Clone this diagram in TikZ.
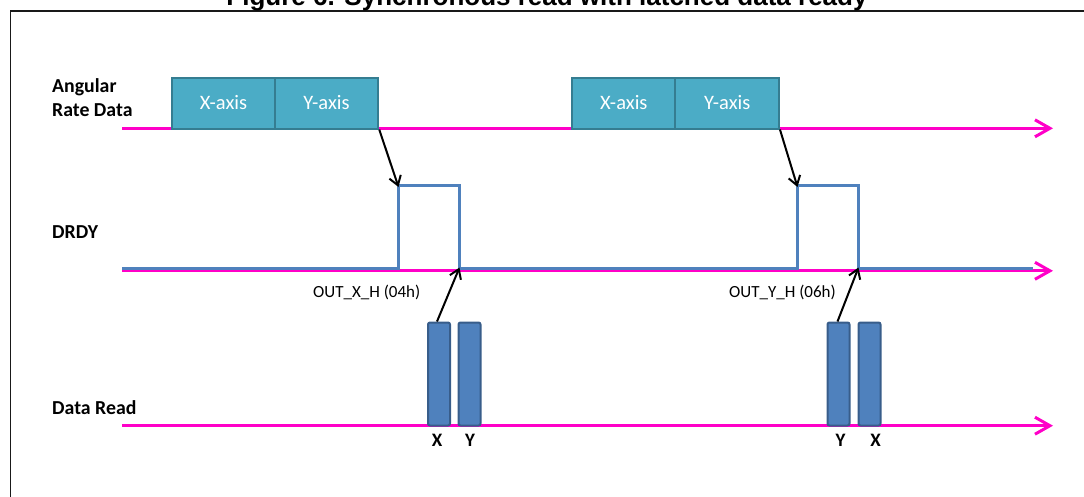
\documentclass[tikz,border=0pt]{standalone}
\usepackage{fontspec}
\setmainfont{Carlito}
\newfontfamily\arialf{Liberation Sans}
\usetikzlibrary{arrows.meta}
\definecolor{mag}{RGB}{255,0,200}
\definecolor{tealfill}{HTML}{4BACC6}
\definecolor{tealdraw}{HTML}{357D91}
\definecolor{sigblue}{HTML}{4F81BD}
\definecolor{bardraw}{HTML}{385D8A}
\begin{document}
\begin{tikzpicture}[x=1pt,y=-1pt,
  axisline/.style={mag, line width=3pt, -{Straight Barb[length=15pt,width=17pt,line width=3pt]}},
  databox/.style={draw=tealdraw, fill=tealfill, line width=2pt, minimum width=103.5pt, minimum height=51pt, inner sep=0pt, text=white, font=\fontsize{20.5}{24}\selectfont},
  readbar/.style={draw=bardraw, fill=sigblue, line width=2pt, rounded corners=2pt, minimum width=22pt, minimum height=103pt, inner sep=0pt},
  drdyline/.style={sigblue, line width=3.2pt},
  blkarrow/.style={black, line width=2pt, -{Straight Barb[length=9pt,width=12pt,line width=2pt]}},
  rowlabel/.style={anchor=base west, font=\bfseries\fontsize{19.8}{24.4}\selectfont, align=left, inner sep=0pt},
  reglabel/.style={anchor=base west, font=\fontsize{17}{20}\selectfont, inner sep=0pt},
  barlabel/.style={anchor=base, font=\bfseries\fontsize{19}{22}\selectfont, inner sep=0pt},
  frameline/.style={black!90, line width=1.8pt}]
\useasboundingbox (0,0) rectangle (1084,496);

% frame and title
\draw[frameline] (10.5,520) -- (10.5,11) -- (1110,11);
\node[anchor=base, inner sep=0pt, font=\arialf\bfseries\fontsize{26}{30}\selectfont] (title) at (547,5) {Figure 6. Synchronous read with latched data ready};

% time axes
\coordinate (a1s) at (122,128.3); \coordinate (a1e) at (1053,128.3);
\coordinate (a2s) at (122,270.8); \coordinate (a2e) at (1053,270.8);
\coordinate (a3s) at (122,425.7); \coordinate (a3e) at (1053,425.7);
\draw[axisline] (a1s) -- (a1e);
\draw[axisline] (a2s) -- (a2e);
\draw[axisline] (a3s) -- (a3e);

% row labels
\node[rowlabel] (lab1) at (52,116.7) {Angular\\Rate Data};
\node[rowlabel] (lab2) at (52,238.5) {DRDY};
\node[rowlabel] (lab3) at (52,414.5) {Data Read};

% angular rate data boxes
\node[databox] (xa1) at (223.5,103) {X-axis};
\node[databox] (ya1) at (326.5,103) {Y-axis};
\node[databox] (xa2) at (623.8,103) {X-axis};
\node[databox] (ya2) at (727.2,103) {Y-axis};

% DRDY signal
\coordinate (p1r) at (398.5,185.5);
\coordinate (p1f) at (459.5,268.5);
\coordinate (p2r) at (797.5,185.5);
\coordinate (p2f) at (858.5,268.5);
\draw[drdyline] (122,268.5) -- (398.5,268.5) -- (p1r) -- (459.5,185.5) -- (p1f)
  -- (797.5,268.5) -- (p2r) -- (858.5,185.5) -- (p2f) -- (1033,268.5);

% data read bars
\node[readbar] (bx1) at (439,374) {};
\node[readbar] (by1) at (469.5,374) {};
\node[readbar] (by2) at (838.5,374) {};
\node[readbar] (bx2) at (869.5,374) {};
\node[barlabel] (tx1) at (437,446.7) {X};
\node[barlabel] (ty1) at (470,446.7) {Y};
\node[barlabel] (ty2) at (840.5,446.7) {Y};
\node[barlabel] (tx2) at (875.5,446.7) {X};

% register labels
\node[reglabel] (reg1) at (313,297) {OUT\_X\_H (04h)};
\node[reglabel] (reg2) at (729,297) {OUT\_Y\_H (06h)};

% causal arrows
\draw[blkarrow] (ya1.south east) -- ([yshift=-1.5pt]p1r);
\draw[blkarrow] (ya2.south east) -- ([yshift=-1.5pt]p2r);
\draw[blkarrow] ([xshift=-2pt]bx1.north) -- ([yshift=1pt]p1f);
\draw[blkarrow] ([xshift=-1pt]by2.north) -- ([yshift=1pt]p2f);
\end{tikzpicture}
\end{document}
